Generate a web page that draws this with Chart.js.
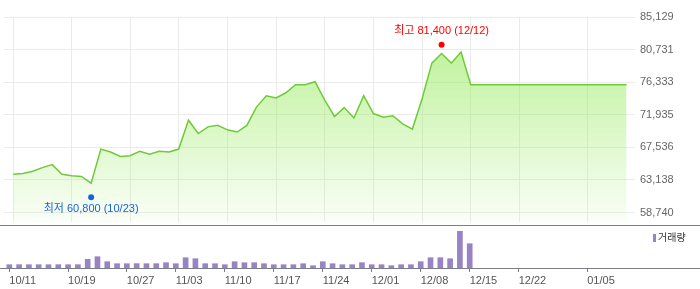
<!DOCTYPE html>
<html><head><meta charset="utf-8">
<script src="https://cdn.jsdelivr.net/npm/chart.js@4/dist/chart.umd.min.js"></script>
<style>
html,body{margin:0;padding:0;background:#fff;width:700px;height:289px;overflow:hidden}
#top{position:absolute;left:0;top:0}
#vol{position:absolute;left:0;top:225px}
</style></head><body>
<canvas id="top" width="700" height="226"></canvas>
<canvas id="vol" width="700" height="64"></canvas>
<script>
// Trading days (2023-10-11 .. 2024-01-11)
const dates = [
 '10/11','10/12','10/13','10/16','10/17','10/18','10/19','10/20','10/23','10/24','10/25','10/26','10/27','10/30','10/31',
 '11/01','11/02','11/03','11/06','11/07','11/08','11/09','11/10','11/13','11/14','11/15','11/16','11/17','11/20','11/21','11/22','11/23','11/24','11/27','11/28','11/29','11/30',
 '12/01','12/04','12/05','12/06','12/07','12/08','12/11','12/12','12/13','12/14','12/15','12/18','12/19','12/20','12/21','12/22','12/26','12/27','12/28',
 '01/02','01/03','01/04','01/05','01/08','01/09','01/10','01/11'
];
// Closing prices (last close carried over the remaining days)
const closes = [
 63900,64000,64300,64800,65200,63900,63700,63600,62700,67300,66900,66300,66400,67000,66600,
 67000,66900,67300,71200,69400,70300,70500,69900,69600,70500,73000,74500,74200,74900,76000,76000,76400,73900,71700,72900,71500,74500,
 72100,71600,71800,70700,70000,74100,78900,80200,78900,80400,76000,
 76000,76000,76000,76000,76000,76000,76000,76000,
 76000,76000,76000,76000,76000,76000,76000,76000
];
// Volume (shares)
const volumes = [
 330000,335000,330000,332000,330000,334000,330000,331000,870000,1130000,630000,430000,430000,435000,430000,
 432000,530000,430000,1030000,930000,430000,430000,330000,630000,530000,530000,430000,330000,330000,330000,430000,230000,630000,430000,330000,330000,530000,
 330000,330000,230000,330000,330000,630000,1030000,1030000,930000,3670000,2430000
];
const xTickLabels = ['10/11','10/19','10/27','11/03','11/10','11/17','11/24','12/01','12/08','12/15','12/22','01/05'];
const yTickValues = [58740,63138,67536,71935,76333,80731,85129];
const yTickLabels = ['58,740','63,138','67,536','71,935','76,333','80,731','85,129'];
const markerDates = ['10/23','12/12'];
const markerPrices = [60800,81400];
const markerNames = ['최저','최고'];
const markerColors = ['#1764dc','#ff0000'];
const volumeLegend = '거래량';

const xTicks = xTickLabels.map(l => dates.indexOf(l));
const FONT = "'Liberation Sans','Noto Sans CJK KR',sans-serif";
const GRID = '#ebebeb';
const AXIS = '#7a7e84';
const BAR = '#9883c4';

const labelPlugin = {
  id:'hiLoLabels',
  afterDatasetsDraw(chart){
    const ctx = chart.ctx;
    const meta = chart.getDatasetMeta(0);
    ctx.save();
    ctx.font = '11px ' + FONT;
    ctx.textAlign = 'center';
    ctx.textBaseline = 'middle';
    meta.data.forEach((pt, i) => {
      const txt = markerNames[i] + ' ' + markerPrices[i].toLocaleString('en-US') + ' (' + markerDates[i] + ')';
      ctx.fillStyle = markerColors[i];
      const dy = markerPrices[i] === Math.max(...markerPrices) ? -14 : 11.5;
      ctx.fillText(txt, pt.x, pt.y + dy);
    });
    ctx.restore();
  }
};

new Chart(document.getElementById('top'), {
  type:'line',
  data:{datasets:[
    {
      data: markerDates.map((d,i)=>({x:dates.indexOf(d), y:markerPrices[i]})),
      showLine:false, pointRadius:3, pointBorderWidth:0,
      pointBackgroundColor: markerColors, order:0
    },
    {
      data: closes.map((v,i)=>({x:i, y:v})),
      borderColor:'#6fca38', borderWidth:1.5, pointRadius:0, tension:0,
      fill:'start', order:1,
      backgroundColor:(c)=>{
        const a = c.chart.chartArea;
        if(!a) return 'rgba(155,235,100,0.4)';
        const g = c.chart.ctx.createLinearGradient(0,a.top,0,a.bottom);
        g.addColorStop(0,'rgba(155,235,100,0.74)');
        g.addColorStop(1,'rgba(155,235,100,0.05)');
        return g;
      }
    }
  ]},
  options:{
    responsive:false, animation:false, devicePixelRatio:1,
    layout:{padding:{top:17,left:0,right:0,bottom:0}},
    plugins:{legend:{display:false}, tooltip:{enabled:false}},
    scales:{
      x:{
        type:'linear', min:-0.95, max:63.87,
        afterBuildTicks:s=>{s.ticks = xTicks.map(v=>({value:v}));},
        ticks:{display:false},
        grid:{color:GRID, drawTicks:false},
        border:{display:false},
        afterFit:s=>{s.height=0; s.paddingLeft=0; s.paddingRight=0;}
      },
      y:{
        position:'right', min:57459, max:85129,
        afterBuildTicks:s=>{s.ticks = yTickValues.map(v=>({value:v}));},
        ticks:{callback:(v,i)=>yTickLabels[i], padding:5, color:'#666', font:{family:FONT, size:11}},
        grid:{color:GRID, drawTicks:false},
        border:{display:false},
        afterFit:s=>{s.width=65; s.paddingTop=0; s.paddingBottom=0;}
      }
    }
  },
  plugins:[labelPlugin]
});

const volDeco = {
  id:'volDeco',
  afterDraw(chart){
    const ctx = chart.ctx;
    ctx.save();
    ctx.strokeStyle = AXIS; ctx.lineWidth = 1;
    ctx.beginPath(); ctx.moveTo(0,0.5); ctx.lineTo(chart.width,0.5); ctx.stroke();
    ctx.fillStyle = BAR;
    ctx.fillRect(chart.width-47, 9, 3, 8);
    ctx.fillStyle = '#333';
    ctx.font = '10px ' + FONT;
    ctx.textAlign = 'left'; ctx.textBaseline = 'middle';
    ctx.fillText(volumeLegend, chart.width-42, 13);
    ctx.restore();
  }
};

new Chart(document.getElementById('vol'), {
  type:'bar',
  data:{datasets:[{
    data: volumes.map((v,i)=>({x:i, y:v})),
    backgroundColor:BAR, barThickness:5
  }]},
  options:{
    responsive:false, animation:false, devicePixelRatio:1,
    layout:{padding:0},
    plugins:{legend:{display:false}, tooltip:{enabled:false}},
    scales:{
      x:{
        type:'linear', min:-0.95, max:70.51, offset:false,
        afterBuildTicks:s=>{s.ticks = xTicks.map(v=>({value:v}));},
        ticks:{callback:(v,i)=>xTickLabels[i], align:'start', padding:2, autoSkip:false, maxRotation:0, color:'#555', font:{family:FONT, size:11}},
        grid:{offset:false, drawOnChartArea:false, drawTicks:true, tickLength:4, tickColor:AXIS},
        border:{display:true, color:AXIS, width:1},
        afterFit:s=>{s.height=21; s.paddingLeft=0; s.paddingRight=0;}
      },
      y:{display:false, min:0, max:4300000}
    }
  },
  plugins:[volDeco]
});
</script>
</body></html>
